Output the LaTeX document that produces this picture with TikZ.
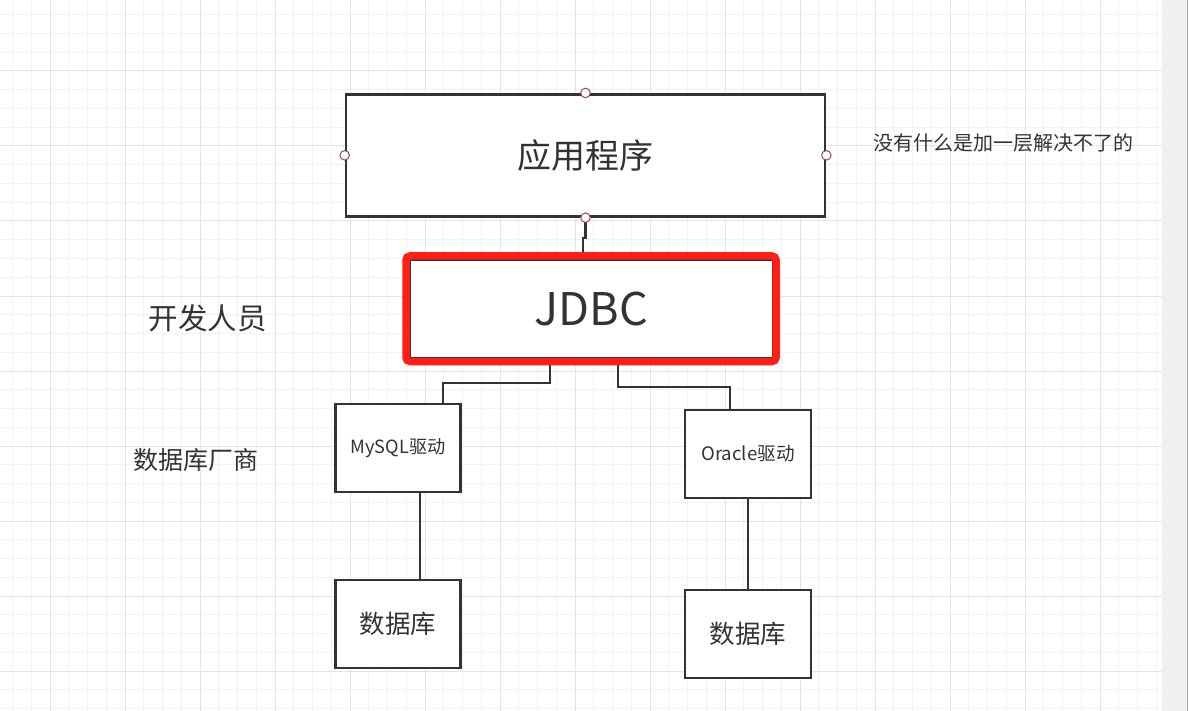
\documentclass[tikz,border=0pt]{standalone}
\usepackage{fontspec}
\setmainfont{Noto Sans CJK SC}
\definecolor{ink}{HTML}{333333}
\definecolor{gridminor}{HTML}{F2F2F2}
\definecolor{gridmajor}{HTML}{E4E4E4}
\definecolor{hl}{HTML}{FF1F14}
\definecolor{ptred}{HTML}{9E4A4A}
\definecolor{strip}{HTML}{F0F0F0}
\tikzset{
  box/.style={draw=ink, line width=2.7pt, fill=white, text=ink, inner sep=0pt},
  conn/.style={draw=ink, line width=2.2pt},
  lbl/.style={text=ink, inner sep=0pt},
  cpoint/.style={circle, draw=ptred, fill=white, line width=1pt, minimum size=9.5pt, inner sep=0pt},
  highlight/.style={draw=hl, line width=7.5pt, rounded corners=4pt},
}
\begin{document}
\begin{tikzpicture}[x=1pt, y=-1pt]
\useasboundingbox (0,0) rectangle (1188,711);
\fill[white] (0,0) rectangle (1188,711);
% grid
\foreach \i in {0,...,62} {
  \pgfmathsetmacro{\xx}{12.5+18.75*\i}
  \ifdim\xx pt<1162pt
    \draw[gridminor, line width=1pt] (\xx,0) -- (\xx,711);
  \fi
}
\foreach \i in {0,...,38} {
  \pgfmathsetmacro{\yy}{-4+18.75*\i}
  \draw[gridminor, line width=1pt] (0,\yy) -- (1162,\yy);
}
\foreach \i in {0,...,15} {
  \pgfmathsetmacro{\xx}{50+75*\i}
  \ifdim\xx pt<1162pt
    \draw[gridmajor, line width=1pt] (\xx,0) -- (\xx,711);
  \fi
}
\foreach \i in {1,...,9} {
  \pgfmathsetmacro{\yy}{-4+75*\i}
  \draw[gridmajor, line width=1pt] (0,\yy) -- (1162,\yy);
}
% right strip
\fill[strip] (1162,0) rectangle (1188,711);
\draw[gray!70, line width=1pt] (1187.5,0) -- (1187.5,711);

% boxes
\node[box, minimum width=479pt, minimum height=122pt, font=\fontsize{34}{40}\selectfont] (app) at (585.5,155.3) {应用程序};
\node[box, minimum width=363pt, minimum height=98pt, font=\fontsize{45}{54}\selectfont] (jdbc) at (591.5,309) {JDBC};
\node[box, minimum width=125.5pt, minimum height=88pt, font=\fontsize{18.2}{22}\selectfont] (mysql) at (398,448) {MySQL驱动};
\node[box, minimum width=126pt, minimum height=88pt, font=\fontsize{18.6}{22}\selectfont] (oracle) at (748,454) {Oracle驱动};
\node[box, minimum width=125.5pt, minimum height=88pt, font=\fontsize{25.5}{30}\selectfont] (db1) at (398,624) {数据库};
\node[box, minimum width=126pt, minimum height=88pt, font=\fontsize{25.5}{30}\selectfont] (db2) at (748,634) {数据库};

% connectors
\coordinate (j1) at (583,238);
\draw[conn] (app.south) -- (app.south |- j1) -- (j1) -- (j1 |- jdbc.north);
\coordinate (m1) at (550,383);
\draw[conn] (m1 |- jdbc.south) -- (m1) -| (mysql.north -| 443,0);
\coordinate (o1) at (618,387);
\draw[conn] (o1 |- jdbc.south) -- (o1) -| (oracle.north -| 730,0);
\draw[conn] (mysql.south -| 420,0) -- (db1.north -| 420,0);
\draw[conn] (oracle.south) -- (db2.north);

% highlight frame
\draw[highlight] (406,256) rectangle (776,361.5);

% connection points
\node[cpoint] (pt) at (app.north) {};
\node[cpoint] (pb) at (app.south) {};
\node[cpoint] (pl) at (app.west) {};
\node[cpoint] (pr) at (app.east) {};

% side labels
\node[lbl, font=\fontsize{29.5}{35}\selectfont] (dev) at (207.5,318) {开发人员};
\node[lbl, font=\fontsize{25}{30}\selectfont] (vendor) at (195.5,460) {数据库厂商};
\node[lbl, font=\fontsize{20}{24}\selectfont] (note) at (1003.5,143) {没有什么是加一层解决不了的};
\end{tikzpicture}
\end{document}
